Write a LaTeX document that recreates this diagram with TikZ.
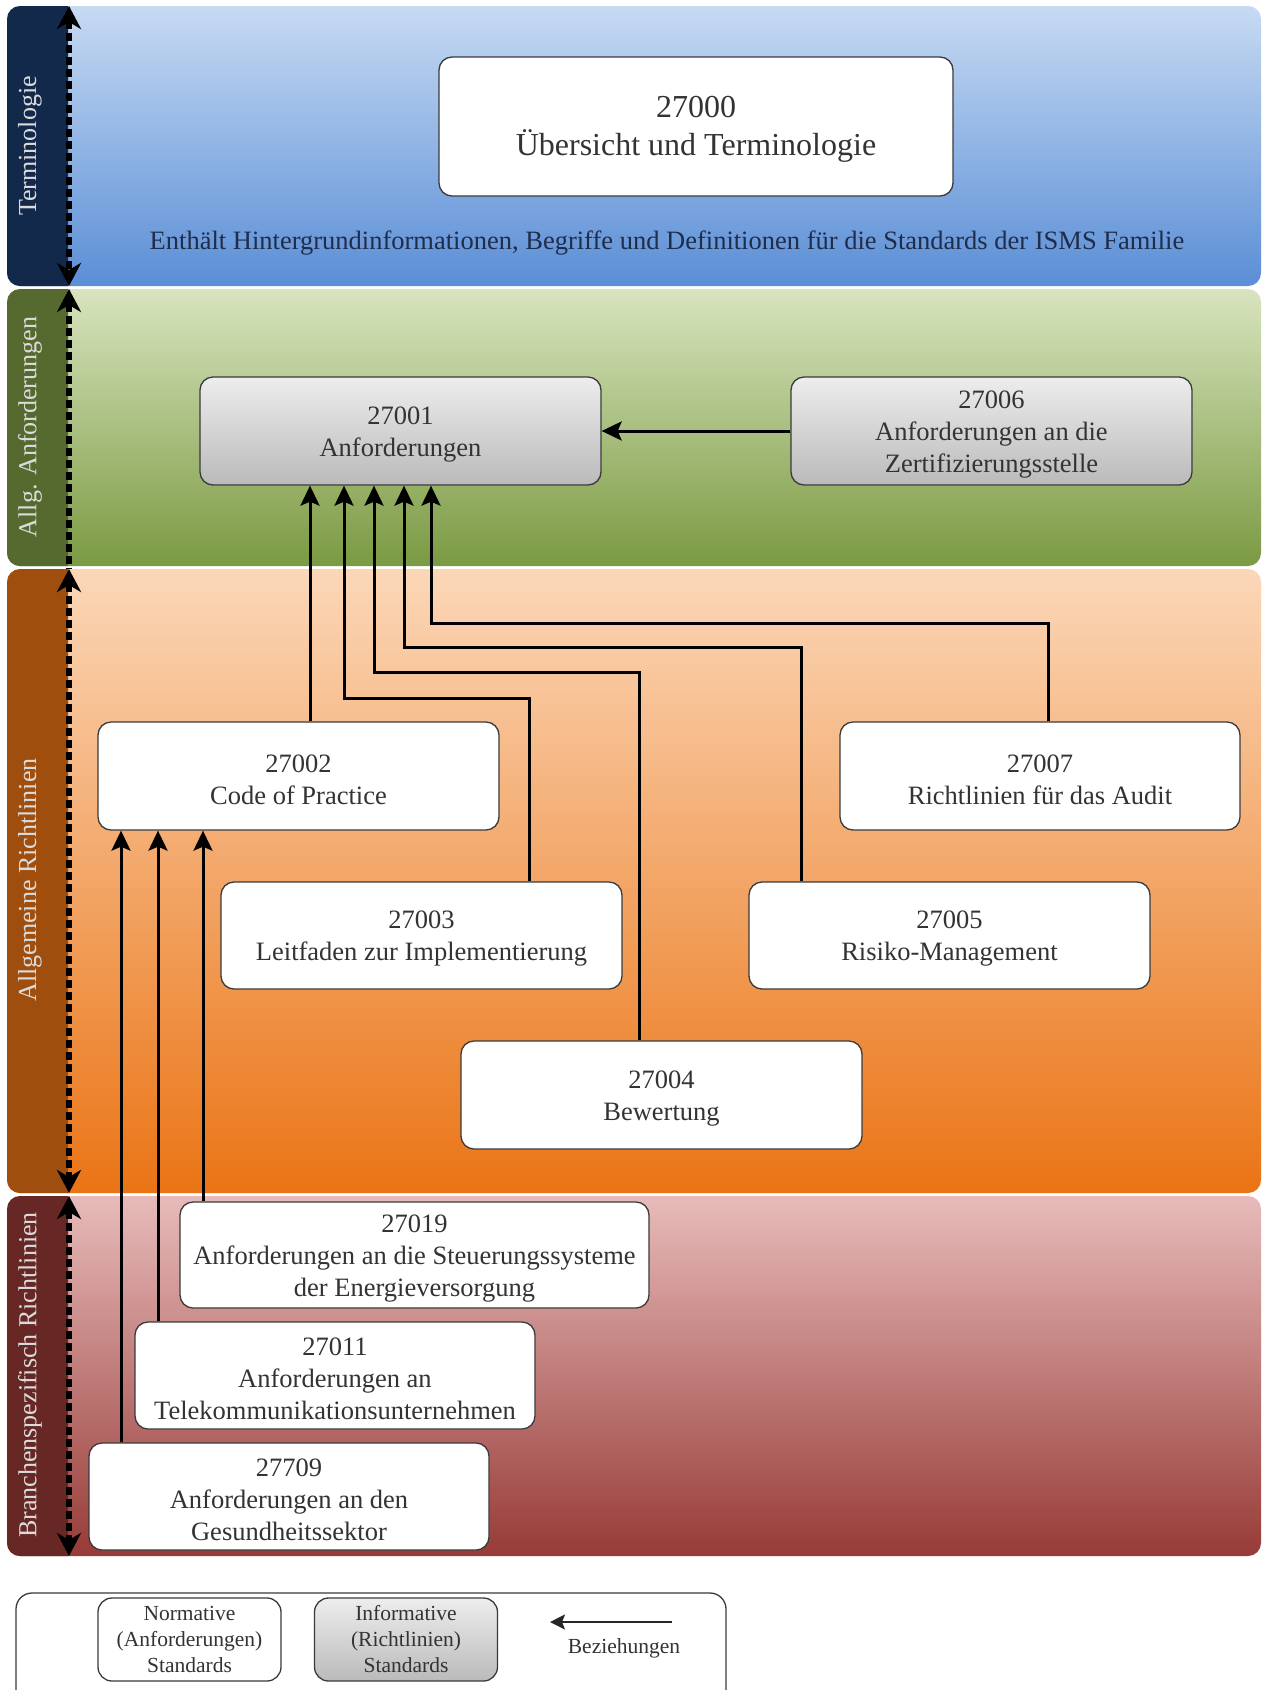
\documentclass[tikz,border=0pt]{standalone}
\usepackage{fontspec}
\setmainfont{Liberation Serif}
\usetikzlibrary{arrows.meta}

% lane colours
\definecolor{laneBlueTop}{HTML}{C7DAF2}
\definecolor{laneBlueBot}{HTML}{5A8ED6}
\definecolor{laneGreenTop}{HTML}{D8E4BF}
\definecolor{laneGreenBot}{HTML}{7B9A42}
\definecolor{laneOrangeTop}{HTML}{FBD7B8}
\definecolor{laneOrangeBot}{HTML}{EA7415}
\definecolor{laneRedTop}{HTML}{E7BBBA}
\definecolor{laneRedBot}{HTML}{973B37}
\definecolor{stripBlue}{HTML}{13294B}
\definecolor{stripGreen}{HTML}{566A2F}
\definecolor{stripOrange}{HTML}{9F4E0D}
\definecolor{stripRed}{HTML}{662725}
\definecolor{descText}{HTML}{1F2D4B}
\definecolor{boxText}{HTML}{333333}
\definecolor{boxLine}{HTML}{3A3A3A}

\newcommand{\boxtextfont}{\fontsize{26.5}{32}\selectfont}
\newcommand{\titletextfont}{\fontsize{32}{38}\selectfont}
\newcommand{\legendtextfont}{\fontsize{21.5}{26}\selectfont}
\newcommand{\lanetextfont}{\fontsize{26}{30}\selectfont}
% taller first line, so the text block sits a little lower in its box
\newcommand{\liftline}[1]{\rule{0pt}{#1}}

\tikzset{
  lanetip/.tip={Stealth[length=23pt,width=24pt,inset=7pt]},
  stdbox/.style={draw=boxLine, line width=1.3pt, rounded corners=13pt, fill=white,
    align=center, text=boxText, font=\boxtextfont, inner sep=0pt},
  infobox/.style={stdbox, top color=black!7, bottom color=black!27},
  conn/.style={line width=3pt, draw=black, -{Stealth[length=20pt,width=19pt,inset=4pt]}},
  legendconn/.style={line width=2.2pt, draw=black!85, -{Stealth[length=15pt,width=15pt,inset=3pt]}},
  lanearrow/.style={line width=5.5pt, dash pattern=on 8pt off 4pt},
  lanelabel/.style={rotate=90, text=white!86!black, font=\lanetextfont, inner sep=0pt}
}

\begin{document}
\begin{tikzpicture}[x=1pt,y=-1pt]
\useasboundingbox (0,0) rectangle (1262,1690);
\fill[white] (0,0) rectangle (1262,1690);

% lanes with their coloured label strips
\foreach \ytop/\ybot/\ctop/\cbot/\cstrip in {
    6/286/laneBlueTop/laneBlueBot/stripBlue,
    289/566/laneGreenTop/laneGreenBot/stripGreen,
    569/1193/laneOrangeTop/laneOrangeBot/stripOrange,
    1196/1556/laneRedTop/laneRedBot/stripRed} {
  \shade[top color=\ctop, bottom color=\cbot, rounded corners=13pt]
    (7,\ytop) rectangle (1261,\ybot);
  \begin{scope}
    \clip (7,\ytop) rectangle (68,\ybot);
    \fill[\cstrip, rounded corners=13pt] (7,\ytop) rectangle (120,\ybot);
  \end{scope}
}

% lane titles
\node[lanelabel] (labTerm) at (30,146) {Terminologie};
\node[lanelabel] (labAllg) at (30,427) {Allg. Anforderungen};
\node[lanelabel] (labRicht) at (30,880) {Allgemeine Richtlinien};
\node[lanelabel] (labBranch) at (30,1375) {Branchenspezifisch Richtlinien};

% lane extent arrows
\coordinate (laneTop1) at (69,6);    \coordinate (laneBot1) at (69,286);
\coordinate (laneTop2) at (69,289);  \coordinate (laneBot2) at (69,568);
\coordinate (laneTop3) at (69,569);  \coordinate (laneBot3) at (69,1193);
\coordinate (laneTop4) at (69,1196); \coordinate (laneBot4) at (69,1556);
\draw[lanearrow, lanetip-lanetip] (laneTop1) -- (laneBot1);
\draw[lanearrow, lanetip-] (laneTop2) -- (laneBot2);
\draw[lanearrow, lanetip-lanetip] (laneTop3) -- (laneBot3);
\draw[lanearrow, lanetip-lanetip] (laneTop4) -- (laneBot4);

% terminology
\node[stdbox, font=\titletextfont, minimum width=514pt, minimum height=139pt]
  (n27000) at (696,126.5) {\liftline{26pt}27000\\Übersicht und Terminologie};
\node[text=descText, font=\boxtextfont, inner sep=0pt] (desc) at (667,243)
  {Enthält Hintergrundinformationen, Begriffe und Definitionen für die Standards der ISMS Familie};

% requirements
\node[infobox, minimum width=401pt, minimum height=108pt] (n27001) at (400.5,431)
  {\liftline{24.5pt}27001\\Anforderungen};
\node[infobox, minimum width=401pt, minimum height=108pt] (n27006) at (991.5,431)
  {\liftline{24.5pt}27006\\Anforderungen an die\\Zertifizierungsstelle};

% general guidelines
\node[stdbox, minimum width=401pt, minimum height=108pt] (n27002) at (298.5,776)
  {\liftline{24.5pt}27002\\Code of Practice};
\node[stdbox, minimum width=400pt, minimum height=108pt] (n27007) at (1040,776)
  {\liftline{24.5pt}27007\\Richtlinien für das Audit};
\node[stdbox, minimum width=401pt, minimum height=107pt] (n27003) at (421.5,935.5)
  {\liftline{24.5pt}27003\\Leitfaden zur Implementierung};
\node[stdbox, minimum width=401pt, minimum height=107pt] (n27005) at (949.5,935.5)
  {\liftline{24.5pt}27005\\Risiko-Management};
\node[stdbox, minimum width=401pt, minimum height=108pt] (n27004) at (661.5,1095)
  {\liftline{24.5pt}27004\\Bewertung};

% sector specific guidelines
\node[stdbox, minimum width=469pt, minimum height=106pt] (n27019) at (414.5,1255)
  {\liftline{24.5pt}27019\\Anforderungen an die Steuerungssysteme\\der Energieversorgung};
\node[stdbox, minimum width=400pt, minimum height=107pt] (n27011) at (335,1375.5)
  {\liftline{24.5pt}27011\\Anforderungen an\\Telekommunikationsunternehmen};
\node[stdbox, minimum width=400pt, minimum height=107pt] (n27709) at (289,1496.5)
  {\liftline{24.5pt}27709\\Anforderungen an den\\Gesundheitssektor};

% connector columns and levels
\coordinate (inA) at (310,0);
\coordinate (inB) at (344,698);
\coordinate (inC) at (374,672);
\coordinate (inD) at (404,647);
\coordinate (inE) at (431,623);
\coordinate (src3) at (529,0);
\coordinate (src4) at (639,0);
\coordinate (src5) at (801,0);
\coordinate (src7) at (1048,0);
\coordinate (inF) at (121,0);
\coordinate (inG) at (158,0);
\coordinate (inH) at (203,0);

\draw[conn] (n27006.west) -- (n27001.east);
\draw[conn] (n27002.north -| inA) -- (n27001.south -| inA);
\draw[conn] (n27003.north -| src3) |- (inB) -- (n27001.south -| inB);
\draw[conn] (n27004.north -| src4) |- (inC) -- (n27001.south -| inC);
\draw[conn] (n27005.north -| src5) |- (inD) -- (n27001.south -| inD);
\draw[conn] (n27007.north -| src7) |- (inE) -- (n27001.south -| inE);

\draw[conn] (n27709.north -| inF) -- (n27002.south -| inF);
\draw[conn] (n27011.north -| inG) -- (n27002.south -| inG);
\draw[conn] (n27019.north -| inH) -- (n27002.south -| inH);

% legend
\draw[draw=boxLine, line width=1.3pt, fill=white, rounded corners=16pt]
  (16,1593) rectangle (726,1720);
\node[stdbox, font=\legendtextfont, rounded corners=14pt, minimum width=183pt, minimum height=83pt]
  (legNorm) at (189.5,1639.5) {Normative\\(Anforderungen)\\Standards};
\node[infobox, font=\legendtextfont, rounded corners=14pt, minimum width=183pt, minimum height=83pt]
  (legInfo) at (406,1639.5) {Informative\\(Richtlinien)\\Standards};
\coordinate (legFrom) at (672,1622);
\coordinate (legTo) at (550,1622);
\draw[legendconn] (legFrom) -- (legTo);
\node[text=boxText, font=\legendtextfont, inner sep=0pt] (legRel) at (624,1648) {Beziehungen};
\end{tikzpicture}
\end{document}
